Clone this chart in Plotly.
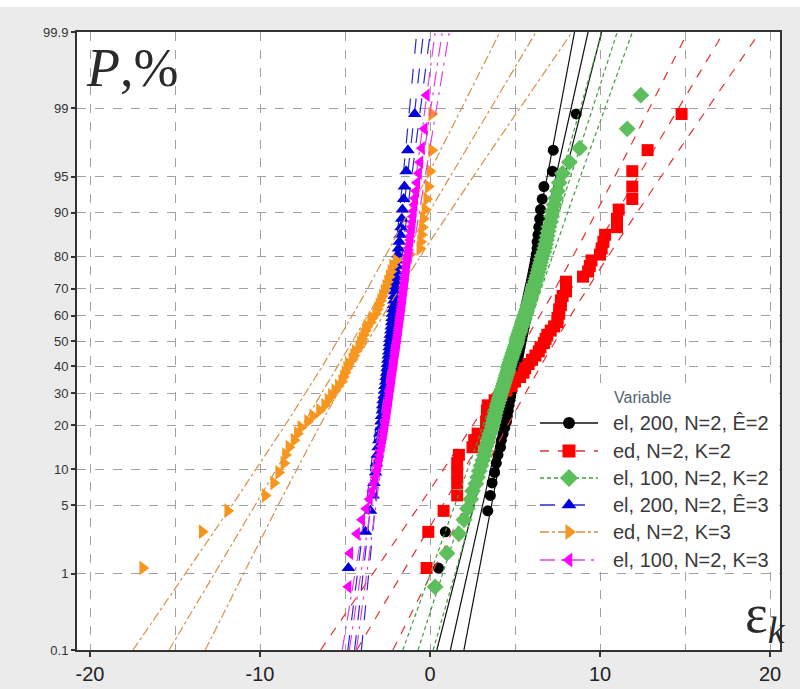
import numpy as np
import plotly.graph_objects as go
from statistics import NormalDist

ND = NormalDist()

# ---- data: sorted sample values of each series ----
labels = ["el, 200, N=2, Ê=2", "ed, N=2, K=2", "el, 100, N=2, K=2",
          "el, 200, N=2, Ê=3", "ed, N=2, K=3", "el, 100, N=2, K=3"]

el200_k2 = [0.5, 0.9, 3.4, 3.55, 3.65, 3.8, 3.9, 4.0, 4.15, 4.2,
            4.3, 4.4, 4.5, 4.55, 4.6, 4.65, 4.7, 4.75, 4.8, 4.85,
            4.9, 4.95, 5.0, 5.05, 5.1, 5.15, 5.2, 5.25, 5.3, 5.35,
            5.4, 5.45, 5.5, 5.55, 5.6, 5.65, 5.7, 5.75, 5.8, 5.85,
            5.9, 5.95, 6.0, 6.0, 6.05, 6.1, 6.15, 6.2, 6.25, 6.3,
            6.3, 6.35, 6.4, 6.45, 6.5, 6.6, 6.7, 7.2, 7.25, 8.6]

ed_k2 = [-0.2, -0.1, 0.8, 1.6, 1.6, 1.6, 1.6, 1.7, 2.5, 2.6,
         2.8, 3.3, 3.3, 3.35, 3.35, 3.4, 3.8, 4.2, 4.5, 4.8,
         5.0, 5.3, 5.5, 5.6, 5.8, 6.0, 6.2, 6.4, 6.5, 6.7,
         6.8, 6.9, 7.1, 7.3, 7.5, 7.5, 7.6, 7.6, 7.7, 7.7,
         7.8, 8.0, 8.0, 8.0, 9.0, 9.3, 9.4, 9.5, 10.0, 10.1,
         10.2, 10.3, 11.0, 11.0, 11.1, 11.9, 11.9, 11.9, 12.8, 14.8]

el100_k2 = [0.3, 1.0, 1.7, 2.0, 2.2, 2.4, 2.5, 2.7, 2.8, 2.9,
            3.0, 3.1, 3.2, 3.25, 3.3, 3.4, 3.45, 3.5, 3.6, 3.65,
            3.7, 3.75, 3.8, 3.85, 3.9, 3.95, 4.0, 4.05, 4.1, 4.15,
            4.2, 4.25, 4.3, 4.35, 4.4, 4.45, 4.5, 4.55, 4.6, 4.6,
            4.65, 4.7, 4.75, 4.8, 4.85, 4.9, 4.95, 5.0, 5.05, 5.1,
            5.1, 5.15, 5.2, 5.25, 5.3, 5.35, 5.4, 5.45, 5.5, 5.55,
            5.6, 5.65, 5.7, 5.75, 5.8, 5.85, 5.9, 5.95, 6.0, 6.05,
            6.1, 6.15, 6.2, 6.25, 6.3, 6.35, 6.4, 6.45, 6.5, 6.55,
            6.6, 6.7, 6.75, 6.8, 6.85, 6.9, 6.95, 7.0, 7.1, 7.15,
            7.2, 7.3, 7.4, 7.5, 7.6, 7.8, 8.2, 8.8, 11.6, 12.4]

el200_k3 = [-4.8, -3.8, -3.5, -3.35, -3.3, -3.2, -3.15, -3.1, -3.05, -3.0,
            -2.95, -2.9, -2.88, -2.85, -2.8, -2.78, -2.75, -2.7, -2.68, -2.65,
            -2.6, -2.58, -2.55, -2.52, -2.5, -2.48, -2.45, -2.42, -2.4, -2.38,
            -2.35, -2.33, -2.3, -2.28, -2.25, -2.22, -2.2, -2.18, -2.15, -2.12,
            -2.1, -2.08, -2.05, -2.02, -2.0, -1.98, -1.95, -1.92, -1.88, -1.85,
            -1.8, -1.75, -1.7, -1.66, -1.62, -1.55, -1.5, -1.4, -1.3, -0.9]

ed_k3 = [-16.9, -13.4, -11.9, -9.7, -9.2, -8.9, -8.6, -8.5, -8.3, -8.0,
         -7.8, -7.6, -7.2, -6.9, -6.5, -6.2, -6.0, -5.8, -5.6, -5.4,
         -5.2, -5.1, -5.0, -4.9, -4.8, -4.6, -4.5, -4.4, -4.2, -4.1,
         -4.0, -3.9, -3.8, -3.7, -3.5, -3.4, -3.2, -3.1, -3.0, -2.9,
         -2.8, -2.7, -2.6, -2.5, -2.4, -2.3, -2.2, -2.0, -1.2, -0.6,
         -0.55, -0.5, -0.45, -0.4, -0.3, -0.2, -0.1, 0.0, 0.1, 0.1]

el100_k3 = [-4.8, -4.7, -4.3, -4.0, -3.75, -3.55, -3.4, -3.3, -3.2, -3.12,
            -3.05, -3.0, -2.95, -2.9, -2.85, -2.8, -2.76, -2.72, -2.68, -2.65,
            -2.62, -2.58, -2.55, -2.52, -2.5, -2.47, -2.44, -2.42, -2.4, -2.37,
            -2.35, -2.33, -2.3, -2.28, -2.26, -2.24, -2.22, -2.2, -2.17, -2.15,
            -2.13, -2.11, -2.09, -2.07, -2.05, -2.03, -2.0, -1.98, -1.96, -1.94,
            -1.92, -1.9, -1.88, -1.86, -1.84, -1.82, -1.8, -1.78, -1.76, -1.74,
            -1.72, -1.7, -1.68, -1.66, -1.64, -1.62, -1.6, -1.58, -1.56, -1.54,
            -1.52, -1.5, -1.48, -1.46, -1.44, -1.42, -1.4, -1.38, -1.35, -1.32,
            -1.3, -1.27, -1.24, -1.2, -1.17, -1.14, -1.1, -1.07, -1.03, -1.0,
            -0.96, -0.92, -0.88, -0.82, -0.76, -0.66, -0.58, -0.48, -0.32, -0.2]

series = [el200_k2, ed_k2, el100_k2, el200_k3, ed_k3, el100_k3]

prob_ticks = [0.1, 1, 5, 10, 20, 30, 40, 50, 60, 70, 80, 90, 95, 99, 99.9]
prob_text = ["0.1", "1", "5", "10", "20", "30", "40", "50", "60", "70",
             "80", "90", "95", "99", "99.9"]
x_ticks = [-20, -10, 0, 10, 20]

# ---- styling ----
colors = ["#000000", "#ff0000", "#5cbf5c", "#0000dd", "#f7961e", "#ff00ff"]
line_colors = ["#111111", "#e83030", "#3f9f3f", "#2a2ad0", "#d8904a", "#e040e0"]
symbols = ["circle", "square", "diamond", "triangle-up", "triangle-right", "triangle-left"]
msizes = [11, 12, 13, 12, 13, 12]
dashes = ["solid", "dash", "4px,3px", "longdash", "dashdot", "longdashdot"]

Z_LO = ND.inv_cdf(0.001)
Z_HI = ND.inv_cdf(0.999)

# pixel geometry of the plotting area
PX_L, PX_R, PX_T, PX_B = 77, 780, 32, 650
W, H = 800, 689


def plot_positions(n):
    # median ranks (Benard)
    return [ND.inv_cdf((i - 0.3) / (n + 0.4)) for i in range(1, n + 1)]


fig = go.Figure()

zz = np.linspace(Z_LO, Z_HI, 81)
for vals, col, lcol, sym, ms, dash, name in zip(series, colors, line_colors, symbols,
                                                 msizes, dashes, labels):
    arr = np.sort(np.asarray(vals, dtype=float))
    n = arr.size
    mu = arr.mean()
    sd = arr.std(ddof=1)
    fit = mu + zz * sd
    se = sd * np.sqrt(1.0 / n + zz ** 2 / (2.0 * n))
    lo = fit - 1.96 * se
    hi = fit + 1.96 * se
    lx = np.concatenate([lo, [np.nan], fit, [np.nan], hi])
    ly = np.concatenate([zz, [np.nan], zz, [np.nan], zz])
    fig.add_trace(go.Scatter(x=lx, y=ly, mode="lines", showlegend=False,
                             line=dict(color=lcol, width=1.2, dash=dash),
                             hoverinfo="skip"))
    fig.add_trace(go.Scatter(x=arr, y=plot_positions(n), mode="markers", name=name,
                             showlegend=False,
                             marker=dict(symbol=sym, size=ms, color=col,
                                         line=dict(width=0))))

# ---- legend drawn on a pixel-scaled overlay ----
LEG_X0, LEG_X1, LEG_Y0, LEG_Y1 = 536, 779, 386, 571
leg_rows = [423, 451, 478, 505, 532, 560]
fig.add_trace(go.Scatter(x=[LEG_X0, LEG_X1, LEG_X1, LEG_X0, LEG_X0],
                         y=[LEG_Y0, LEG_Y0, LEG_Y1, LEG_Y1, LEG_Y0],
                         xaxis="x2", yaxis="y2", mode="lines", fill="toself",
                         fillcolor="white", line=dict(width=0, color="white"),
                         showlegend=False, hoverinfo="skip"))
for ry, col, lcol, sym, ms, dash in zip(leg_rows, colors, line_colors, symbols, msizes, dashes):
    fig.add_trace(go.Scatter(x=[540, 598], y=[ry, ry], xaxis="x2", yaxis="y2",
                             mode="lines", line=dict(color=lcol, width=1.5, dash=dash),
                             showlegend=False, hoverinfo="skip"))
    fig.add_trace(go.Scatter(x=[569], y=[ry], xaxis="x2", yaxis="y2", mode="markers",
                             marker=dict(symbol=sym, size=ms + 1, color=col),
                             showlegend=False, hoverinfo="skip"))


def px_x(p):
    return (p - PX_L) / (PX_R - PX_L)


def px_y(p):
    return (PX_B - p) / (PX_B - PX_T)


annotations = [dict(x=px_x(612), y=px_y(397), xref="paper", yref="paper",
                    text="Variable", showarrow=False, xanchor="left", yanchor="middle",
                    font=dict(family="Liberation Sans", size=16, color="#4f6470"))]
for ry, name in zip(leg_rows, labels):
    annotations.append(dict(x=px_x(611), y=px_y(ry), xref="paper", yref="paper",
                            text=name, showarrow=False, xanchor="left", yanchor="middle",
                            font=dict(family="Liberation Sans", size=20, color="#3a3a3a")))

annotations.append(dict(x=px_x(84), y=px_y(68), xref="paper", yref="paper",
                        text="<i>P</i>,%", showarrow=False, xanchor="left", yanchor="middle",
                        font=dict(family="Liberation Serif", size=54, color="#2a2a2a")))
annotations.append(dict(x=px_x(788), y=px_y(617), xref="paper", yref="paper",
                        text="ε<sub><i>k</i></sub>", showarrow=False, xanchor="right",
                        yanchor="middle",
                        font=dict(family="Liberation Serif", size=54, color="#2a2a2a")))

grid_style = dict(gridcolor="#a0a0a0", griddash="dash", gridwidth=1.4)

fig.update_layout(
    width=W, height=H,
    margin=dict(l=PX_L, r=W - PX_R, t=PX_T, b=H - PX_B, pad=0),
    paper_bgcolor="#ebebeb", plot_bgcolor="white",
    showlegend=False,
    annotations=annotations,
    xaxis=dict(range=[(PX_L - 430) / 17.0, (PX_R - 430) / 17.0],
               automargin=False,
               tickmode="array", tickvals=x_ticks, ticktext=[str(v) for v in x_ticks],
               ticks="outside", ticklen=5, tickwidth=1.5, tickcolor="#333",
               tickfont=dict(family="Liberation Sans", size=20, color="#222"),
               showgrid=True, **grid_style,
               minor=dict(tickmode="array", tickvals=[-15, -5, 5, 15], showgrid=True,
                          ticks="", **grid_style),
               showline=True, linecolor="#333", linewidth=2, mirror=True,
               zeroline=False),
    yaxis=dict(range=[Z_LO, Z_HI],
               automargin=False,
               tickmode="array", tickvals=[ND.inv_cdf(p / 100) for p in prob_ticks],
               ticktext=prob_text,
               ticks="outside", ticklen=4, tickwidth=1.5, tickcolor="#333",
               tickfont=dict(family="Liberation Sans", size=13, color="#333"),
               showgrid=True, **grid_style,
               showline=True, linecolor="#333", linewidth=2, mirror=True,
               zeroline=False),
    xaxis2=dict(overlaying="x", range=[PX_L, PX_R], visible=False, fixedrange=True),
    yaxis2=dict(overlaying="y", range=[PX_B, PX_T], visible=False, fixedrange=True),
    shapes=[dict(type="rect", xref="paper", yref="paper", x0=-0.2, x1=1.1,
                 y0=px_y(7), y1=px_y(-5), fillcolor="white", line=dict(width=0),
                 layer="below")],
)

fig.write_html("out.html")
